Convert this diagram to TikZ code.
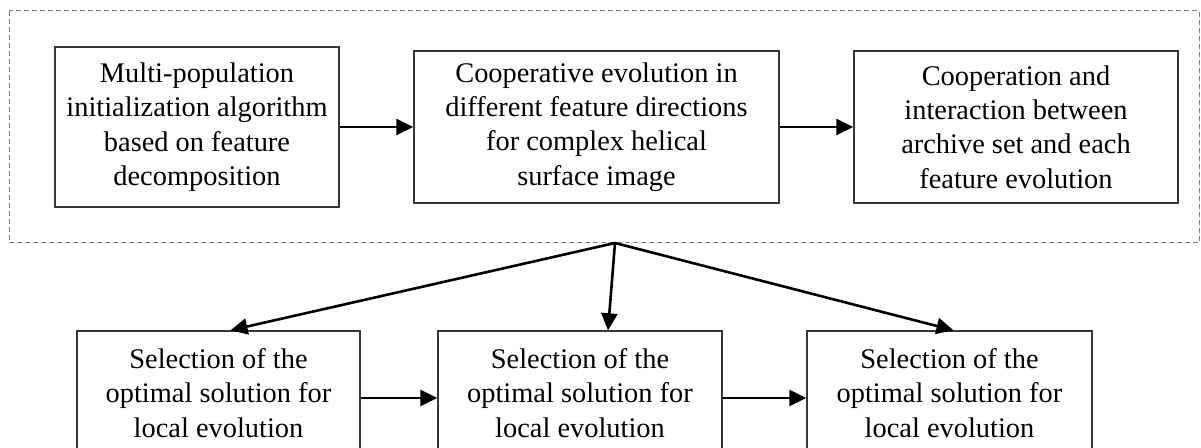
\documentclass[tikz,border=0pt]{standalone}
\usepackage{fontspec}
\setmainfont{Liberation Serif}
\usetikzlibrary{arrows.meta}
\usepackage{xcolor}
\definecolor{bordacinza}{RGB}{55,55,55}
\tikzset{
    caixa/.style={draw=bordacinza, line width=0.7pt, align=center, inner sep=0pt, font=\fontsize{14.2}{17.2}\selectfont},
    seta/.style={-{Triangle[length=8.5pt,width=8pt]}, line width=1.3pt},
    moldura/.style={draw=gray, line width=0.5pt, dash pattern=on 2.5pt off 1.5pt}
}

\begin{document}
\begin{tikzpicture}[x=0.5pt, y=-0.5pt]
    \useasboundingbox (0,0) rectangle (1201,448);
    \draw[moldura] (9,11) rectangle (1199,243);
    \node[caixa, minimum width=142pt, minimum height=80pt] (init) at (197,127) {Multi-population\\initialization algorithm\\based on feature\\decomposition};
    \node[caixa, minimum width=182.5pt, minimum height=76pt] (coop) at (596.5,127) {Cooperative evolution in\\different feature directions\\for complex helical\\surface image};
    \node[caixa, minimum width=162pt, minimum height=76pt] (arq) at (1016,127) {Cooperation and\\interaction between\\archive set and each\\feature evolution};
    \node[caixa, minimum width=141.5pt, minimum height=62pt] (sel1) at (218.5,393) {Selection of the\\optimal solution for\\local evolution};
    \node[caixa, minimum width=142pt, minimum height=62pt] (sel2) at (580,393) {Selection of the\\optimal solution for\\local evolution};
    \node[caixa, minimum width=142.5pt, minimum height=62pt] (sel3) at (949.5,393) {Selection of the\\optimal solution for\\local evolution};
    \coordinate (topo) at (615,243);
    \draw[seta] (init) -- (coop);
    \draw[seta] (coop) -- (arq);
    \draw[seta] ([yshift=-2.5pt]sel1.east) -- ([yshift=-2.5pt]sel2.west);
    \draw[seta] ([yshift=-2.5pt]sel2.east) -- ([yshift=-2.5pt]sel3.west);
    \draw[seta] (topo) -- ([xshift=6pt]sel1.north);
    \draw[seta] (topo) -- ([xshift=14pt]sel2.north);
    \draw[seta] (topo) -- ([xshift=2pt]sel3.north);
\end{tikzpicture}
\end{document}
